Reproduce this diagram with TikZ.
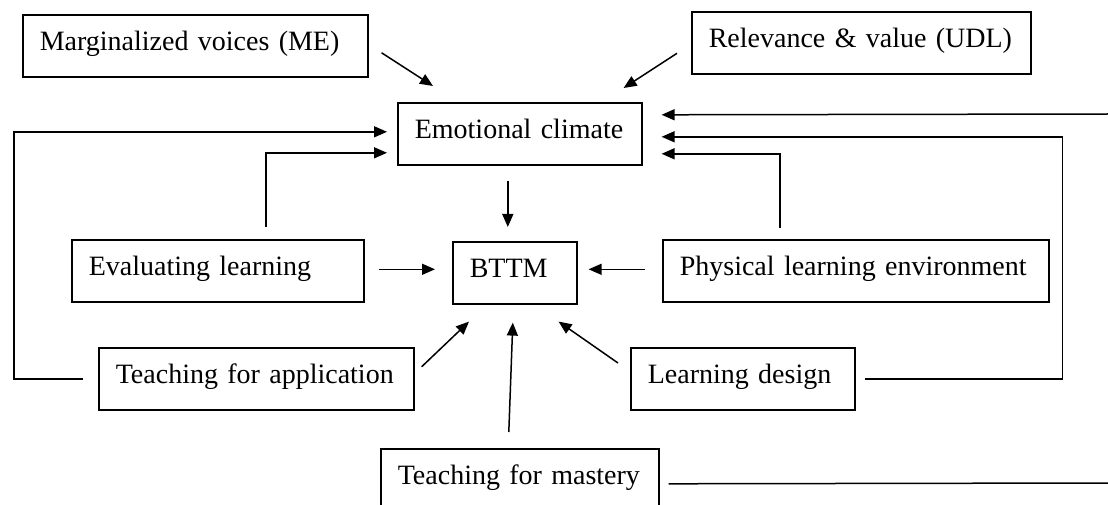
\documentclass[tikz,border=0pt]{standalone}
\usepackage{fontspec}
\setmainfont{Liberation Serif}
\usetikzlibrary{arrows.meta,calc}
\begin{document}
\begin{tikzpicture}[x=1pt,y=-1pt,
  box/.style={draw, line width=1.6pt, anchor=north west, inner xsep=17pt, inner ysep=0pt,
    text height=36pt, text depth=26pt, align=left, font=\fontsize{28}{32}\selectfont},
  arr/.style={line width=1.5pt, -{Triangle[length=13pt,width=11pt]}},
  link/.style={line width=1.5pt}]
\clip (0,0) rectangle (1108,505);
\fill[white] (0,0) rectangle (1108,505);

% boxes
\node[box, text width=311pt] (marg) at (22,14)  {Marginalized voices (ME)};
\node[box, text width=305pt] (rel)  at (691,11) {Relevance \& value (UDL)};
\node[box, text width=210pt] (emo)  at (397,102) {Emotional climate};
\node[box, text width=258pt] (eval) at (71,239) {Evaluating learning};
\node[box, text width=90pt]  (bttm) at (452,241) {BTTM};
\node[box, text width=352pt] (phys) at (662,239) {Physical learning environment};
\node[box, text width=281pt] (app)  at (98,347) {Teaching for application};
\node[box, text width=190pt] (ld)   at (630,347) {Learning design};
\node[box, text width=244pt] (mast) at (380,448) {Teaching for mastery};

% free ends at the right margin
\coordinate (topright) at (1108,114);
\coordinate (botright) at (1108,483);

% arrows into the emotional climate
\draw[arr] ($(marg.east)+(13,7)$) -- ($(emo.north west)+(36,-16)$);
\draw[arr] ($(rel.west)+(-14,10.5)$) -- ($(emo.north east)+(-19,-14)$);
\draw[arr] ($(app.west)+(-15,0)$) -- ++(-69,0) |- ($(emo.west)+(-10,-2)$);
\draw[arr] ($(eval.north west)+(195,-12)$) |- ($(emo.west)+(-10,19)$);
\draw[arr] (topright) -- ($(emo.east)+(19,-19)$);
\draw[arr] ($(ld.east)+(9,0)$) -- ++(198,0) |- ($(emo.east)+(19,3)$);
\draw[arr] ($(phys.north west)+(118,-11)$) |- ($(emo.east)+(19,20)$);

% arrows into BTTM
\draw[arr] ($(emo.south)+(-12,15)$) -- ($(bttm.north)+(-7,-14)$);
\draw[arr] ($(eval.east)+(14,-1.5)$) -- ($(bttm.west)+(-17,-3.5)$);
\draw[arr] ($(phys.west)+(-17,-1.5)$) -- ($(bttm.east)+(11,-3.5)$);
\draw[arr] ($(app.east)+(7,-12)$) -- ($(bttm.south west)+(17,17)$);
\draw[arr] ($(mast.north)+(-11,-16)$) -- ($(bttm.south)+(-2,18)$);
\draw[arr] ($(ld.north west)+(-12,16)$) -- ($(bttm.south east)+(-19,17)$);

% open line from mastery to the right margin
\draw[link] ($(mast.east)+(9,4)$) -- (botright);
\end{tikzpicture}
\end{document}
